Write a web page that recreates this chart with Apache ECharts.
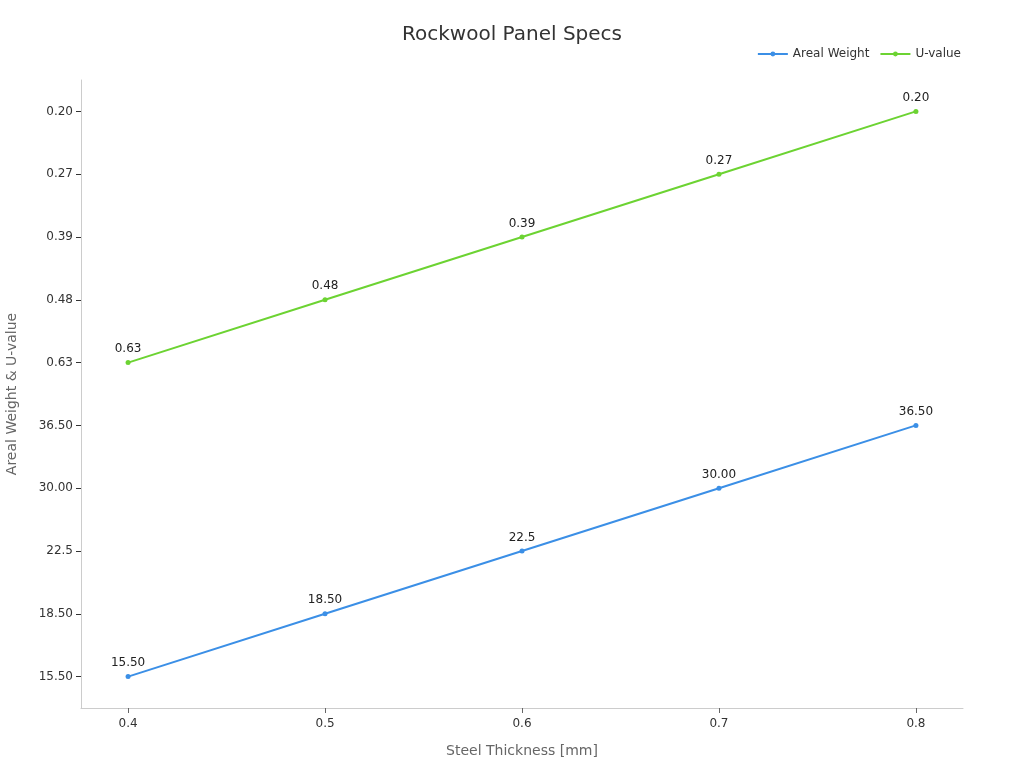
<!DOCTYPE html>
<html><head><meta charset="utf-8">
<script src="https://cdn.jsdelivr.net/npm/echarts@6/dist/echarts.min.js"></script>
<style>html,body{margin:0;padding:0;background:#fff}#c{width:1024px;height:768px}</style>
</head><body><div id="c"></div>
<script>
const thickness = [0.4, 0.5, 0.6, 0.7, 0.8];
const yCategories = ['15.50', '18.50', '22.5', '30.00', '36.50', '0.63', '0.48', '0.39', '0.27', '0.20'];
const arealWeight = ['15.50', '18.50', '22.5', '30.00', '36.50'];
const uValue = ['0.63', '0.48', '0.39', '0.27', '0.20'];

const chart = echarts.init(document.getElementById('c'));
const font = 'DejaVu Sans, sans-serif';
chart.setOption({
  textStyle: {fontFamily: font},
  title: {text: 'Rockwool Panel Specs', left: 'center', top: 20,
    textStyle: {fontSize: 20, fontWeight: 'normal', color: '#333', fontFamily: font}},
  legend: {top: 43, right: 58, itemWidth: 30, itemHeight: 6, itemGap: 10,
    textStyle: {fontSize: 12, color: '#333'},
    data: ['Areal Weight', 'U-value']},
  grid: {left: 81, right: 61, top: 80, bottom: 60, containLabel: false, outerBoundsMode: 'none'},
  xAxis: {type: 'value', min: 0.3761, max: 0.8239,
    name: 'Steel Thickness [mm]', nameLocation: 'middle', nameGap: 36,
    nameTextStyle: {fontSize: 14, color: '#666'},
    splitLine: {show: false},
    axisLine: {show: true, lineStyle: {color: '#ccc'}},
    axisTick: {show: true, customValues: thickness, lineStyle: {color: '#666'}},
    axisLabel: {customValues: thickness, color: '#333', fontSize: 12, margin: 10,
      formatter: v => v.toFixed(1)}},
  yAxis: {type: 'category', data: yCategories, boundaryGap: true,
    name: 'Areal Weight & U-value', nameLocation: 'middle', nameGap: 62,
    nameTextStyle: {fontSize: 14, color: '#666'},
    axisLine: {show: true, lineStyle: {color: '#ccc'}},
    axisTick: {show: true, alignWithLabel: true, lineStyle: {color: '#333'}},
    axisLabel: {color: '#333', fontSize: 12},
    splitLine: {show: false}},
  series: [
    {name: 'Areal Weight', type: 'line', color: '#3b8fe6',
      data: thickness.map((t, i) => [t, arealWeight[i]]),
      symbol: 'circle', symbolSize: 5, lineStyle: {width: 2},
      label: {show: true, position: 'top', color: '#222', fontSize: 12,
        formatter: p => p.value[1]}},
    {name: 'U-value', type: 'line', color: '#6cd332',
      data: thickness.map((t, i) => [t, uValue[i]]),
      symbol: 'circle', symbolSize: 5, lineStyle: {width: 2},
      label: {show: true, position: 'top', color: '#222', fontSize: 12,
        formatter: p => p.value[1]}}
  ]
});
</script></body></html>
